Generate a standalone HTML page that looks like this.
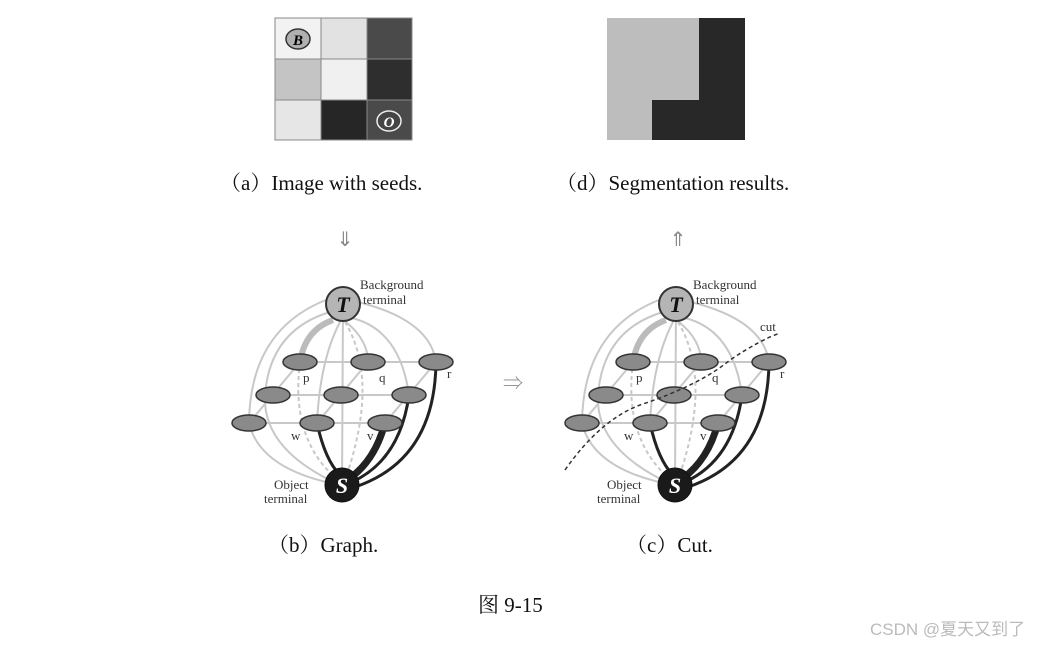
<!DOCTYPE html>
<html><head><meta charset="utf-8"><style>
body{margin:0;background:#fff;width:1045px;height:646px;overflow:hidden;font-family:"Liberation Serif","Noto Serif CJK SC",serif}
svg{position:absolute;left:0;top:0}
</style></head><body>
<svg width="1045" height="646" viewBox="0 0 1045 646">
<defs>
<g id="graph">
  <!-- grid edges -->
  <g stroke="#c8c8c8" stroke-width="2" fill="none">
    <line x1="300" y1="362" x2="436" y2="362"/>
    <line x1="273" y1="395" x2="409" y2="395"/>
    <line x1="249" y1="423" x2="385" y2="423"/>
    <line x1="300" y1="362" x2="249" y2="423"/>
    <line x1="368" y1="362" x2="317" y2="423"/>
    <line x1="436" y1="362" x2="385" y2="423"/>
    <path d="M343 305 L342 485"/>
    <path d="M330 312 Q270 330 265 395 Q262 450 340 485"/>
    <path d="M326 300 Q250 330 249 423"/>
    <path d="M249 423 Q260 470 340 485"/>
    <path d="M340 322 Q320 360 317 423"/>
    <path d="M346 322 Q368 340 368 362"/>
    <path d="M352 318 Q400 330 409 395"/>
    <path d="M358 302 Q430 320 436 362"/>
    <path d="M300 362 Q290 440 338 480" stroke-dasharray="4 3"/>
    <path d="M345 322 Q380 380 345 480" stroke-dasharray="4 3"/>
  </g>
  <path d="M333 320 Q305 330 300 362" stroke="#bbb" stroke-width="6" fill="none"/>
  <g stroke="#222" stroke-width="3" fill="none">
    <path d="M317 423 Q325 460 340 475"/>
    <path d="M409 395 Q400 460 352 482"/>
    <path d="M436 362 Q435 460 355 487"/>
  </g>
  <path d="M385 423 Q375 460 350 478" stroke="#222" stroke-width="7" fill="none"/>
  <g fill="#8a8a8a" stroke="#333" stroke-width="1.5">
    <ellipse cx="300" cy="362" rx="17" ry="8"/><ellipse cx="368" cy="362" rx="17" ry="8"/><ellipse cx="436" cy="362" rx="17" ry="8"/>
    <ellipse cx="273" cy="395" rx="17" ry="8"/><ellipse cx="341" cy="395" rx="17" ry="8"/><ellipse cx="409" cy="395" rx="17" ry="8"/>
    <ellipse cx="249" cy="423" rx="17" ry="8"/><ellipse cx="317" cy="423" rx="17" ry="8"/><ellipse cx="385" cy="423" rx="17" ry="8"/>
  </g>
  <circle cx="343" cy="304" r="17" fill="#b5b5b5" stroke="#333" stroke-width="2"/>
  <text x="343" y="312" font-size="22" font-weight="bold" font-style="italic" text-anchor="middle" fill="#111">T</text>
  <circle cx="342" cy="485" r="17" fill="#1a1a1a" stroke="#111"/>
  <text x="342" y="493" font-size="22" font-weight="bold" font-style="italic" text-anchor="middle" fill="#fff">S</text>
  <g font-size="13" fill="#333">
    <text x="360" y="289">Background</text><text x="363" y="304">terminal</text>
    <text x="274" y="489">Object</text><text x="264" y="503">terminal</text>
    <text x="303" y="382">p</text><text x="379" y="382">q</text><text x="447" y="378">r</text>
    <text x="291" y="440">w</text><text x="367" y="440">v</text>
  </g>
</g>
</defs>

<!-- (a) -->
<g stroke="#888" stroke-width="1">
<rect x="275" y="18" width="46" height="41" fill="#f2f2f2"/>
<rect x="321" y="18" width="46" height="41" fill="#e2e2e2"/>
<rect x="367" y="18" width="45" height="41" fill="#4a4a4a"/>
<rect x="275" y="59" width="46" height="41" fill="#c4c4c4"/>
<rect x="321" y="59" width="46" height="41" fill="#f0f0f0"/>
<rect x="367" y="59" width="45" height="41" fill="#2e2e2e"/>
<rect x="275" y="100" width="46" height="40" fill="#e6e6e6"/>
<rect x="321" y="100" width="46" height="40" fill="#262626"/>
<rect x="367" y="100" width="45" height="40" fill="#4a4a4a"/>
</g>
<ellipse cx="298" cy="39" rx="12" ry="10" fill="#b0b0b0" stroke="#333" stroke-width="1.5"/>
<text x="298" y="45" font-size="15" font-weight="bold" font-style="italic" text-anchor="middle">B</text>
<ellipse cx="389" cy="121" rx="12" ry="10" fill="#444" stroke="#eee" stroke-width="1.5"/>
<text x="389" y="127" font-size="15" font-weight="bold" font-style="italic" text-anchor="middle" fill="#fff">O</text>

<!-- (d) -->
<rect x="607" y="18" width="138" height="122" fill="#bdbdbd"/>
<path d="M699 18 H745 V140 H652 V100 H699 Z" fill="#282828"/>

<g font-size="21" fill="#111">
<text x="220" y="190">（a）Image with seeds.</text>
<text x="556" y="190">（d）Segmentation results.</text>
<text x="268" y="552">（b）Graph.</text>
<text x="626" y="552">（c）Cut.</text>
<text x="478" y="612">图 9-15</text>
</g>
<g font-size="20" fill="#888">
<text x="345" y="246" text-anchor="middle">⇓</text>
<text x="678" y="246" text-anchor="middle">⇑</text>
<text x="513" y="390" text-anchor="middle">⇒</text>
</g>

<use href="#graph"/>
<use href="#graph" transform="translate(333,0)"/>
<path d="M565 470 Q600 420 640 405 Q700 385 730 360 Q760 340 780 333" stroke="#333" stroke-width="1.5" stroke-dasharray="4 3" fill="none"/>
<text x="760" y="331" font-size="13" fill="#333">cut</text>

<text x="870" y="635" font-size="17" fill="#bbb" font-family="Liberation Sans,Noto Sans CJK SC,sans-serif">CSDN @夏天又到了</text>
</svg>
</body></html>
